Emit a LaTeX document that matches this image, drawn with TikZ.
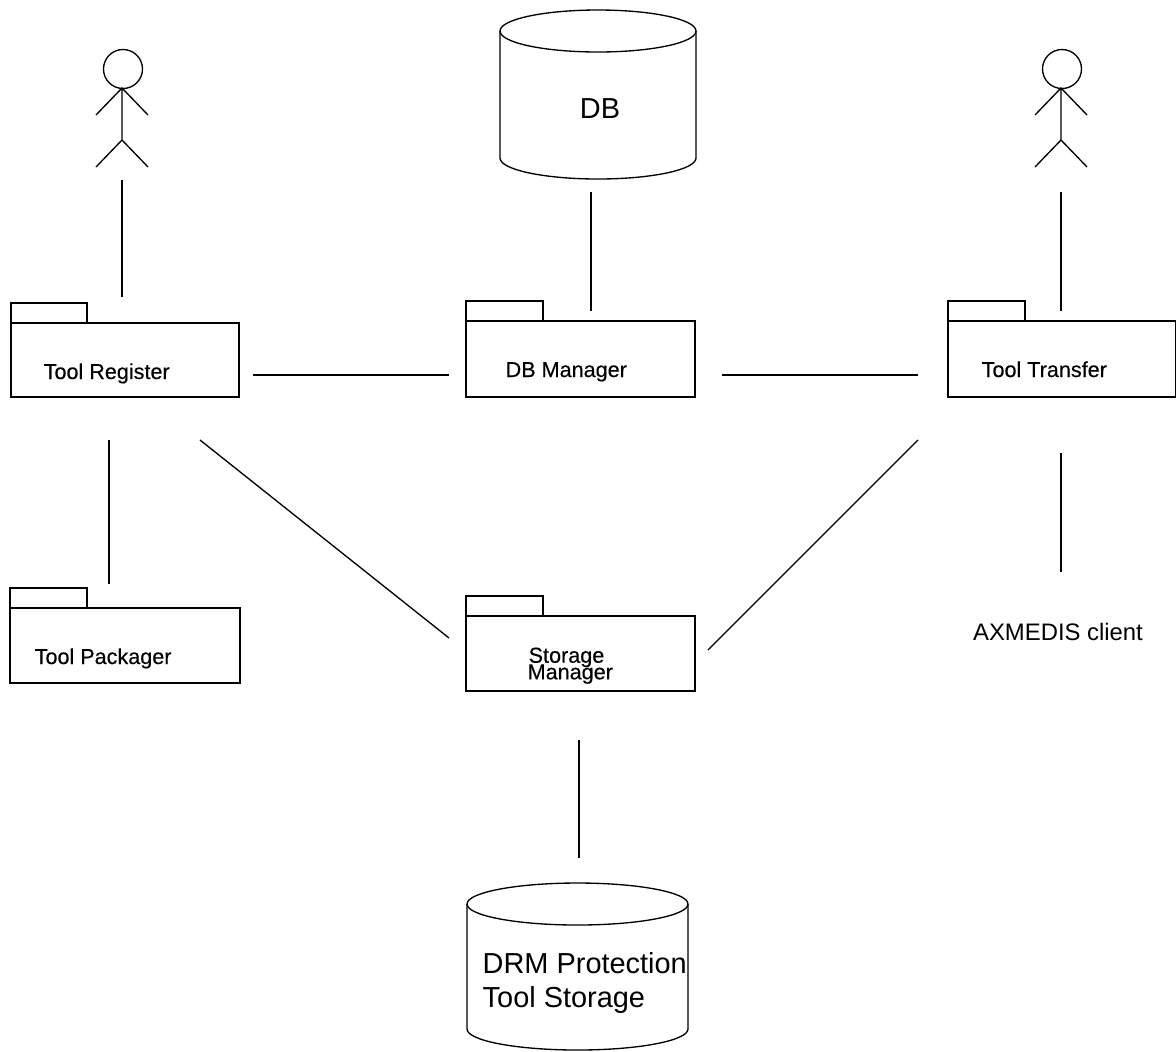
\documentclass[tikz,border=0pt]{standalone}
\usepackage{fontspec}
\setmainfont{Liberation Sans}
\newfontface\pkgfont[FakeBold=0.25]{Liberation Sans}
\lineskiplimit=-100pt
\begin{document}
\begin{tikzpicture}[x=0.75pt,y=-0.75pt,line width=1pt,
  plabel/.style={font=\pkgfont\fontsize{16.2}{14}\selectfont,anchor=base west,inner sep=0},
  big/.style={font=\fontsize{21.7}{25}\selectfont,inner sep=0}]
\useasboundingbox (0,0) rectangle (1176,1051);
\fill[white] (0,0) rectangle (1176,1051);
% packages
\draw (11,323) rectangle (239,397); \draw (11,323) -- (11,303) -- (87,303) -- (87,323);
\draw (466,321) rectangle (695,397); \draw (466,321) -- (466,301) -- (543,301) -- (543,321);
\draw (948,321) rectangle (1176,397); \draw (948,321) -- (948,301) -- (1025,301) -- (1025,321);
\draw (10,608) rectangle (240,683); \draw (10,608) -- (10,588) -- (87,588) -- (87,608);
\draw (466,616) rectangle (695,691); \draw (466,616) -- (466,596) -- (543,596) -- (543,616);
\node[plabel] (reg) at (43,379) {Tool Register};
\node[plabel] (dbm) at (505,377) {DB Manager};
\node[plabel] (trans) at (981,377) {Tool Transfer};
\node[plabel] (pack) at (34,664) {Tool Packager};
\node[plabel] (stor1) at (528,662.7) {Storage};
\node[plabel] (stor2) at (527,679.3) {Manager};
\node[font=\fontsize{17.9}{20}\selectfont,inner sep=0] (client) at (1058,632) {AXMEDIS client};
% cylinders
\draw (500,31) -- (500,158) arc[start angle=180,end angle=0,x radius=98,y radius=21] -- (696,31);
\draw (598,31) ellipse[x radius=98,y radius=21];
\node[big] (db) at (600,109) {DB};
\draw (467,904) -- (467,1029) arc[start angle=180,end angle=0,x radius=110.5,y radius=21] -- (688,904);
\draw (577.5,904) ellipse[x radius=110.5,y radius=21];
\node[big,align=left,anchor=west] (drm) at (482,983) {DRM Protection\\Tool Storage};
% actors
\draw (123,69) circle[radius=19.5];
\draw (122,88) -- (122,140) (96,115) -- (122,88) -- (148,115) (96,167) -- (122,140) -- (148,167);
\draw (1062,69) circle[radius=19.5];
\draw (1061,88) -- (1061,140) (1035,115) -- (1061,88) -- (1087,115) (1035,167) -- (1061,140) -- (1087,167);
% connectors
\coordinate (a1) at (122,180); \coordinate (a2) at (122,297); \draw (a1) -- (a2);
\coordinate (b1) at (591,192); \coordinate (b2) at (591,311); \draw (b1) -- (b2);
\coordinate (c1) at (1061,192); \coordinate (c2) at (1061,311); \draw (c1) -- (c2);
\coordinate (d1) at (253,375); \coordinate (d2) at (449,375); \draw (d1) -- (d2);
\coordinate (e1) at (722,375); \coordinate (e2) at (918,375); \draw (e1) -- (e2);
\coordinate (f1) at (109,440); \coordinate (f2) at (109,584); \draw (f1) -- (f2);
\coordinate (g1) at (200,440); \coordinate (g2) at (449,638); \draw (g1) -- (g2);
\coordinate (h1) at (918,440); \coordinate (h2) at (708,650); \draw (h1) -- (h2);
\coordinate (i1) at (1061,453); \coordinate (i2) at (1061,572); \draw (i1) -- (i2);
\coordinate (j1) at (579,740); \coordinate (j2) at (579,858); \draw (j1) -- (j2);
\end{tikzpicture}
\end{document}
